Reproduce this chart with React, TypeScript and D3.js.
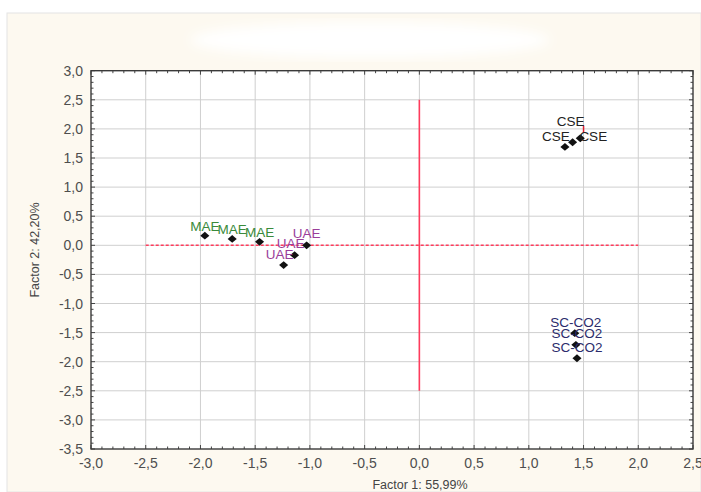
import React, { useEffect, useRef } from 'react';
import * as d3 from 'd3';

const groups = ['MAE', 'MAE', 'MAE', 'UAE', 'UAE', 'UAE', 'CSE', 'CSE', 'CSE', 'SC-CO2', 'SC-CO2', 'SC-CO2'];
const factor1 = [-1.96, -1.71, -1.46, -1.03, -1.14, -1.24, 1.33, 1.40, 1.47, 1.42, 1.43, 1.44];
const factor2 = [0.165, 0.11, 0.06, 0.0, -0.17, -0.34, 1.69, 1.77, 1.84, -1.51, -1.71, -1.94];
// label nudges (px) so the overlapping names sit like the original
const labelDx = [0, 0, 0, 0, -4, -4, -9, -2, 13, 1, 1, 0];
const labelDy = [-5, -5, -5, -7, -7, -6, -6, -16, 3, -6, -7, -6];
const xTicks = d3.range(-3, 2.51, 0.5);
const yTicks = d3.range(-3.5, 3.01, 0.5);
const groupColor: Record<string, string> = {
  'MAE': '#3a8a3a',
  'UAE': '#9a3e9a',
  'CSE': '#222222',
  'SC-CO2': '#2c2c6c',
};

const fmt = (v: number) => (Math.abs(v) < 1e-9 ? 0 : v).toFixed(1).replace('.', ',');

export default function App() {
  const svgRef = useRef<SVGSVGElement>(null);

  useEffect(() => {
    if (!svgRef.current) return;
    const svg = d3.select(svgRef.current);
    svg.selectAll('*').remove();

    const W = 701, H = 492;
    const left = 91, right = 693, top = 70.7, bottom = 449;
    const x = d3.scaleLinear().domain([-3, 2.5]).range([left, right]);
    const y = d3.scaleLinear().domain([-3.5, 3]).range([bottom, top]);

    // page frame
    svg.append('rect').attr('width', W).attr('height', H).attr('fill', '#fff');
    svg.append('rect').attr('x', 7).attr('y', 13).attr('width', W - 7).attr('height', H - 13)
      .attr('fill', '#fdf9f0').attr('stroke', '#e4e4e4');

    // blurred (obscured) title
    const defs = svg.append('defs');
    defs.append('filter').attr('id', 'blur').append('feGaussianBlur').attr('stdDeviation', 6);
    svg.append('ellipse').attr('cx', 370).attr('cy', 40).attr('rx', 180).attr('ry', 18)
      .attr('fill', '#ffffff').attr('filter', 'url(#blur)');

    // plot area
    svg.append('rect').attr('x', left).attr('y', top).attr('width', right - left).attr('height', bottom - top)
      .attr('fill', '#fff');

    const g = svg.append('g');
    g.selectAll('line.gx').data(xTicks.slice(1, -1)).join('line')
      .attr('x1', d => x(d)).attr('x2', d => x(d)).attr('y1', top).attr('y2', bottom)
      .attr('stroke', '#cfcfcf').attr('stroke-width', 1);
    g.selectAll('line.gy').data(yTicks.slice(1, -1)).join('line')
      .attr('y1', d => y(d)).attr('y2', d => y(d)).attr('x1', left).attr('x2', right)
      .attr('stroke', '#cfcfcf').attr('stroke-width', 1);

    // minor / major ticks on all four sides
    const minorX = d3.range(-3, 2.501, 0.1);
    const minorY = d3.range(-3.5, 3.001, 0.1);
    const tickCol = '#444';
    minorX.forEach(v => {
      const major = Math.abs(v * 2 - Math.round(v * 2)) < 1e-6;
      const len = major ? 4 : 2.5;
      g.append('line').attr('x1', x(v)).attr('x2', x(v)).attr('y1', bottom).attr('y2', bottom - len).attr('stroke', tickCol);
      g.append('line').attr('x1', x(v)).attr('x2', x(v)).attr('y1', top).attr('y2', top + len).attr('stroke', tickCol);
    });
    minorY.forEach(v => {
      const major = Math.abs(v * 2 - Math.round(v * 2)) < 1e-6;
      const len = major ? 4 : 2.5;
      g.append('line').attr('y1', y(v)).attr('y2', y(v)).attr('x1', left).attr('x2', left + len).attr('stroke', tickCol);
      g.append('line').attr('y1', y(v)).attr('y2', y(v)).attr('x1', right).attr('x2', right - len).attr('stroke', tickCol);
    });

    svg.append('rect').attr('x', left).attr('y', top).attr('width', right - left).attr('height', bottom - top)
      .attr('fill', 'none').attr('stroke', '#3a3a3a').attr('stroke-width', 1.4);

    // red reference lines
    const redCol = '#ff3b5c';
    svg.append('line').attr('x1', x(-2.5)).attr('x2', x(2)).attr('y1', y(0)).attr('y2', y(0))
      .attr('stroke', redCol).attr('stroke-width', 1.6).attr('stroke-dasharray', '3,2');
    svg.append('line').attr('x1', x(0)).attr('x2', x(0)).attr('y1', y(2.5)).attr('y2', y(-2.5))
      .attr('stroke', redCol).attr('stroke-width', 1.6);

    // tick labels
    const font = 'Liberation Sans, Arial, sans-serif';
    svg.selectAll('text.xt').data(xTicks).join('text')
      .attr('x', d => x(d)).attr('y', 468).attr('text-anchor', 'middle')
      .attr('font-family', font).attr('font-size', 14).attr('fill', '#4e4e4e')
      .text(d => fmt(d));
    svg.selectAll('text.yt').data(yTicks).join('text')
      .attr('x', 83).attr('y', d => y(d) + 5).attr('text-anchor', 'end')
      .attr('font-family', font).attr('font-size', 14).attr('fill', '#4e4e4e')
      .text(d => fmt(d));

    svg.append('text').attr('x', 420).attr('y', 489).attr('text-anchor', 'middle')
      .attr('font-family', font).attr('font-size', 12.5).attr('fill', '#444').text('Factor 1: 55,99%');
    svg.append('text').attr('transform', 'translate(39,250) rotate(-90)').attr('text-anchor', 'middle')
      .attr('font-family', font).attr('font-size', 12.5).attr('fill', '#444').text('Factor 2: 42,20%');

    // points: small squat diamonds
    const idx = d3.range(groups.length);
    const diamond = d3.symbol().type(d3.symbolSquare).size(34);
    svg.selectAll('path.pt').data(idx).join('path')
      .attr('transform', i => `translate(${x(factor1[i])},${y(factor2[i])}) scale(1.1,0.95) rotate(45)`)
      .attr('d', diamond()).attr('fill', '#111');

    // small red marker by the CSE cluster
    svg.append('line').attr('x1', x(1.5)).attr('x2', x(1.5)).attr('y1', y(2.05)).attr('y2', y(1.93))
      .attr('stroke', '#e02030').attr('stroke-width', 1.5);

    svg.selectAll('text.lbl').data(idx).join('text')
      .attr('x', i => x(factor1[i]) + labelDx[i]).attr('y', i => y(factor2[i]) + labelDy[i])
      .attr('text-anchor', 'middle').attr('font-family', font).attr('font-size', 13.5)
      .attr('fill', i => groupColor[groups[i]])
      .text(i => groups[i]);
  }, []);

  return (
    <div style={{ position: 'absolute', left: 0, top: 0 }}>
      <svg ref={svgRef} width={701} height={492} style={{ display: 'block' }} />
    </div>
  );
}
